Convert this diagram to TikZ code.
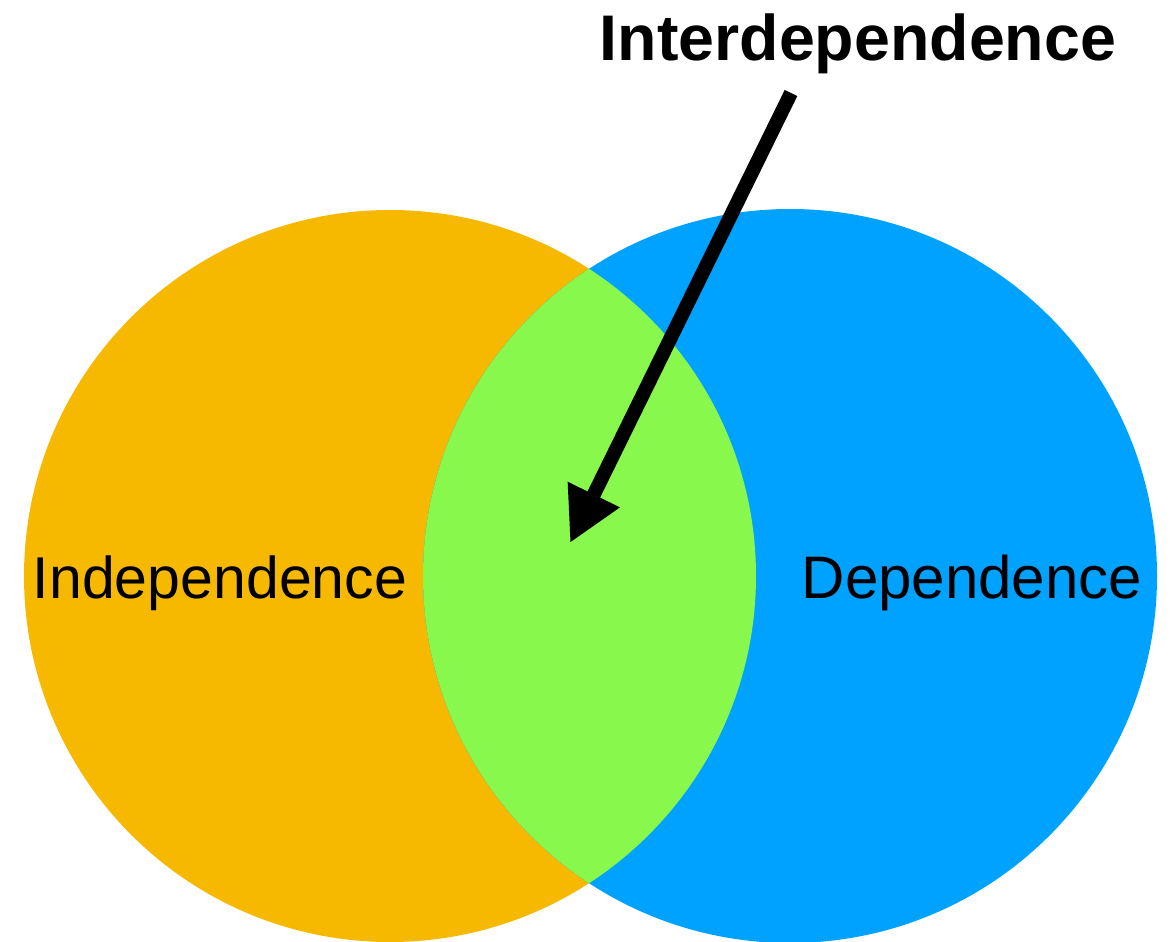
\documentclass[tikz,border=0pt]{standalone}
\usepackage{fontspec}
\setmainfont{Liberation Sans}
\usetikzlibrary{arrows.meta}
\definecolor{indepOrange}{RGB}{246,185,0}
\definecolor{depBlue}{RGB}{0,162,255}
\definecolor{interGreen}{RGB}{136,248,76}
\begin{document}
\begin{tikzpicture}[x=1pt,y=-1pt,
  label/.style={inner sep=0pt,anchor=base,text=black},
  pointer/.style={line width=14pt,draw=black,-{Triangle[length=54pt,width=54pt]}}]
\useasboundingbox (0,0) rectangle (1170,942);
% the two sets
\fill[indepOrange] (390,576) circle[radius=366];
\fill[depBlue] (790,576) circle[radius=367];
% their overlap
\begin{scope}
  \clip (390,576) circle[radius=366];
  \fill[interGreen] (790,576) circle[radius=367];
\end{scope}
% labels
\node[label,font=\fontsize{59}{66}\selectfont] (indep) at (220,598) {Independence};
\node[label,font=\fontsize{60}{66}\selectfont] (dep) at (972,598) {Dependence};
\node[label,font=\fontsize{64.5}{72}\selectfont\bfseries] (inter) at (858,60) {Interdependence};
% pointer from the title into the overlap
\coordinate (tail) at (791,93);
\coordinate (tip) at (570,543);
\draw[pointer] (tail) -- (tip);
\end{tikzpicture}
\end{document}
